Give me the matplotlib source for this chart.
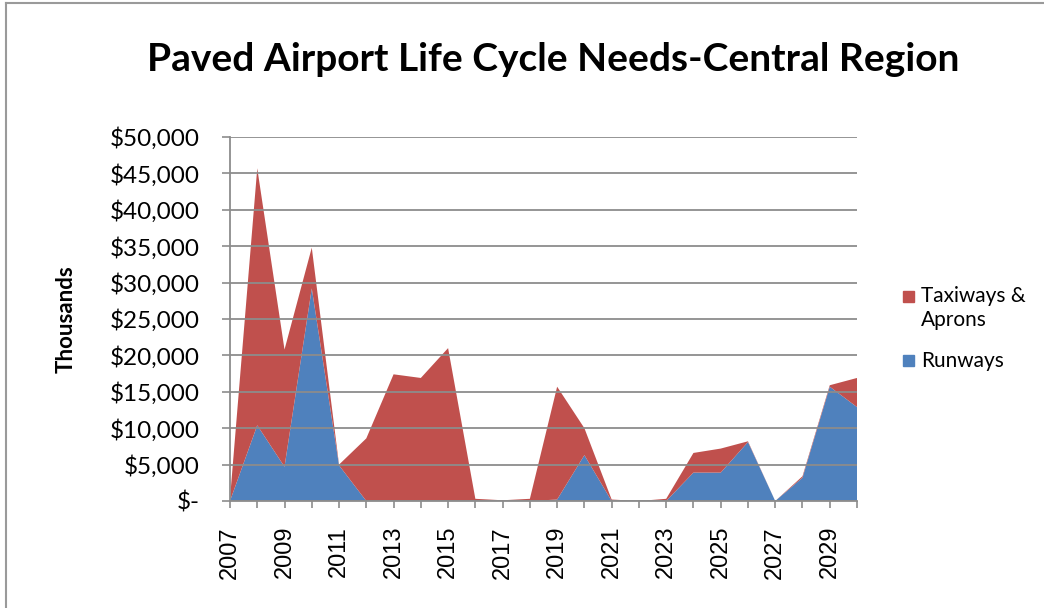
import numpy as np
import matplotlib
matplotlib.use("Agg")
import matplotlib.pyplot as plt
from matplotlib.ticker import FuncFormatter
from matplotlib.lines import Line2D
from matplotlib.patches import Rectangle

# Data (thousands of dollars)
years = list(range(2007, 2031))
runways = [0, 10400, 4700, 29200, 4900, 0, 0, 0, 0, 0, 0, 0,
           200, 6300, 0, 0, 0, 3900, 3900, 8100, 0, 3200, 15700, 12900]
taxiways = [300, 35300, 16100, 5600, 100, 8600, 17400, 16900, 21000, 300, 100, 300,
            15500, 3700, 200, 0, 300, 2700, 3300, 100, 0, 200, 200, 4000]
series_labels = ["Runways", "Taxiways & Aprons"]
title_text = "Paved Airport Life Cycle Needs-Central Region"

RED = "#C0504D"
BLUE = "#4F81BD"
GRID = "#8C8C8C"


def money(v, pos):
    if v == 0:
        return "$-"
    return "${:,.0f}".format(v)


def main():
    fig = plt.figure(figsize=(10.44, 6.08), dpi=100)
    ax = fig.add_axes([0.2203, 0.176, 0.6006, 0.5987])

    ax.stackplot(years, runways, taxiways, colors=[BLUE, RED],
                 labels=series_labels, linewidth=0)

    ax.set_xlim(years[0], years[-1])
    ax.set_ylim(0, 50000)
    ax.set_yticks(np.arange(0, 50001, 5000))
    ax.yaxis.set_major_formatter(FuncFormatter(money))
    ax.set_xticks(years)
    ax.set_xticklabels([str(y) if (y - 2007) % 2 == 0 else "" for y in years],
                       rotation=90, family="Liberation Sans", fontsize=17)

    ax.grid(axis="y", color=GRID, linewidth=1.3)
    for g in ax.get_ygridlines():
        g.set_zorder(0.5)
    for c in ax.collections:
        c.set_zorder(1)

    for s in ["top", "right"]:
        ax.spines[s].set_visible(False)
    for s in ["left", "bottom"]:
        ax.spines[s].set_color(GRID)
        ax.spines[s].set_linewidth(1.3)
        ax.spines[s].set_zorder(3)

    # tick lengths / pads are in points (1 pt = 1.39 px at 100 dpi)
    ax.tick_params(axis="y", length=5.8, width=1.2, color=GRID, pad=16,
                   labelsize=17.5)
    ax.tick_params(axis="x", length=5, width=1.2, color=GRID, pad=13)
    for lab in ax.get_yticklabels():
        lab.set_family("Lato")

    ax.set_ylabel("Thousands", family="Lato", fontweight="bold", fontsize=16,
                  labelpad=24)

    fig.text(0.53, 0.902, title_text, ha="center", va="center",
             family="Lato", fontweight="bold", fontsize=28)

    # legend drawn by hand to match the placement
    fig.patches.append(Rectangle((903 / 1044, 1 - 302 / 608), 11 / 1044, 11 / 608,
                                 transform=fig.transFigure, color=RED, figure=fig))
    fig.text(921 / 1044, 1 - 286 / 608, "Taxiways &\nAprons", ha="left", va="top",
             family="Lato", fontsize=15, linespacing=1.25)
    fig.patches.append(Rectangle((903 / 1044, 1 - 366 / 608), 11 / 1044, 11 / 608,
                                 transform=fig.transFigure, color=BLUE, figure=fig))
    fig.text(921 / 1044, 1 - 361 / 608, "Runways", ha="left", va="center",
             family="Lato", fontsize=15)

    # outer chart frame (left and top edges)
    fig.add_artist(Line2D([6 / 1044, 6 / 1044], [0, 1 - 3 / 608],
                          transform=fig.transFigure, color="#9A9A9A", linewidth=1.5))
    fig.add_artist(Line2D([6 / 1044, 1], [1 - 3 / 608, 1 - 3 / 608],
                          transform=fig.transFigure, color="#9A9A9A", linewidth=1.5))

    fig.savefig("out.png", dpi=100)


if __name__ == "__main__":
    main()
